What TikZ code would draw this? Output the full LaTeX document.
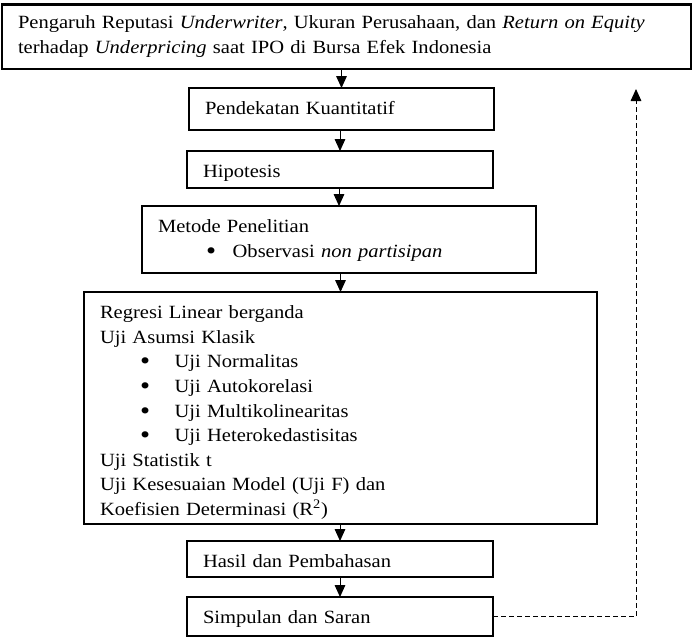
\documentclass[tikz,border=0pt]{standalone}
\usepackage{fontspec}
\usepackage{graphicx}
\setmainfont[FakeStretch=1.1]{Liberation Serif}
\usetikzlibrary{arrows.meta}
\newcommand{\pointitem}[2]{\makebox[56pt][l]{\hspace*{#1}\smash{\raisebox{-1.5pt}{\scalebox{1.4}{\textbullet}}}}#2}

\begin{document}
\begin{tikzpicture}
  [x = .75pt, y = -.75pt,
   stage/.style = {draw, line width = 1.6pt, anchor = north west, outer sep = 0pt,
     align = left, inner xsep = 12pt, inner ysep = 0pt, text height = 20pt,
     font = \fontsize{14}{18.45}\selectfont},
   flow/.style = {-{Triangle[width = 8pt, length = 9pt]}, line width = .75pt},
   back/.style = {flow, dash pattern = on 3.75pt off 2.25pt}]
  \useasboundingbox (0,0) rectangle (693,637);
  \node[stage, minimum width = 516.75pt, text width = 492.75pt, text height = 18pt, text depth = 30.4pt] (title) at (2,4.5)
    {Pengaruh Reputasi \emph{Underwriter}, Ukuran Perusahaan, dan \emph{Return on Equity}\\
     terhadap \emph{Underpricing} saat IPO di Bursa Efek Indonesia};
  \node[stage, minimum width = 228.75pt, text width = 204.75pt, text depth = 11.5pt] (pendekatan) at (189,88)
    {Pendekatan Kuantitatif};
  \node[stage, minimum width = 229.5pt, text width = 205.5pt, text depth = 7.75pt] (hipotesis) at (187,151)
    {Hipotesis};
  \node[stage, minimum width = 295.5pt, text width = 271.5pt, text depth = 30.25pt] (metode) at (142,206)
    {Metode Penelitian\\
     \pointitem{36pt}{Observasi \emph{non partisipan}}};
  \node[stage, minimum width = 384.75pt, text width = 360.75pt, text depth = 154pt] (analisis) at (84,292)
    {Regresi Linear berganda\\
     Uji Asumsi Klasik\\
     \pointitem{30pt}{Uji Normalitas}\\
     \pointitem{30pt}{Uji Autokorelasi}\\
     \pointitem{30pt}{Uji Multikolinearitas}\\
     \pointitem{30pt}{Uji Heterokedastisitas}\\
     Uji Statistik t\\
     Uji Kesesuaian Model (Uji F) dan\\
     Koefisien Determinasi (R\textsuperscript{2})};
  \node[stage, minimum width = 229.5pt, text width = 205.5pt, text depth = 7pt] (hasil) at (187,541)
    {Hasil dan Pembahasan};
  \node[stage, minimum width = 229.5pt, text width = 205.5pt, text depth = 9.25pt] (simpulan) at (187,597)
    {Simpulan dan Saran};
  \coordinate (balik) at (636,89);
  \draw[flow] (pendekatan.north |- title.south) -- (pendekatan.north);
  \draw[flow] (hipotesis.north |- pendekatan.south) -- (hipotesis.north);
  \draw[flow] (metode.north |- hipotesis.south) -- (metode.north);
  \draw[flow] (analisis.north |- metode.south) -- (analisis.north);
  \draw[flow] (hasil.north |- analisis.south) -- (hasil.north);
  \draw[flow] (simpulan.north |- hasil.south) -- (simpulan.north);
  \draw[back] (simpulan.east) -| (balik);
\end{tikzpicture}
\end{document}
